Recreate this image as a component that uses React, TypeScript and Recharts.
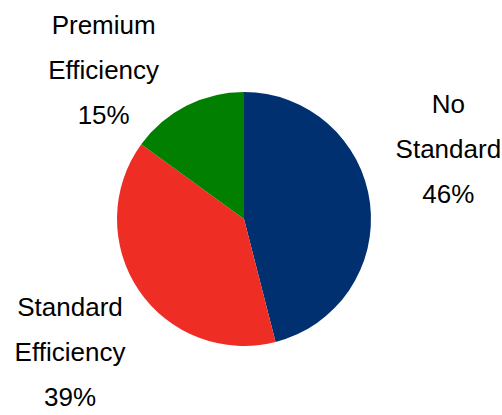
import { Cell, Pie, PieChart } from 'recharts'

const NAMES = ['No Standard', 'Standard Efficiency', 'Premium Efficiency']
const SHARES = [46, 39, 15]
const COLORS = ['#003070', '#EE2E24', '#007F00']

// label block placement: angle shift from slice mid-angle (deg) and distance from centre (px)
const LABEL_PLACE = [
  { shift: 11.7, dist: 216 },
  { shift: 3.2, dist: 219 },
  { shift: 16.2, dist: 205 },
]

const data = NAMES.map((name, i) => ({ name, value: SHARES[i] }))

const RAD = Math.PI / 180

function renderLabel(props: any) {
  const { cx, cy, midAngle, index } = props
  const place = LABEL_PLACE[index]
  const a = (midAngle + place.shift) * RAD
  const x = cx + place.dist * Math.cos(a)
  const y = cy - place.dist * Math.sin(a)
  const words = NAMES[index].split(' ')
  const lines = [...words, `${SHARES[index]}%`]
  return (
    <text
      x={x}
      y={y}
      textAnchor="middle"
      fill="#000"
      fontSize={26}
      fontFamily="'Liberation Sans', Arial, sans-serif"
    >
      {lines.map((line, i) => (
        <tspan key={i} x={x} y={y + 9 + (i - 1) * 45}>
          {line}
        </tspan>
      ))}
    </text>
  )
}

export default function App() {
  return (
    <div style={{ position: 'fixed', left: 0, top: 0, background: '#fff' }}>
      <PieChart width={502} height={415} margin={{ top: 0, right: 0, bottom: 0, left: 0 }}>
        <Pie
          data={data}
          dataKey="value"
          nameKey="name"
          cx={244}
          cy={219}
          outerRadius={127}
          startAngle={90}
          endAngle={-270}
          stroke="none"
          label={renderLabel}
          labelLine={false}
          isAnimationActive={false}
        >
          {data.map((entry, i) => (
            <Cell key={entry.name} fill={COLORS[i]} />
          ))}
        </Pie>
      </PieChart>
    </div>
  )
}
